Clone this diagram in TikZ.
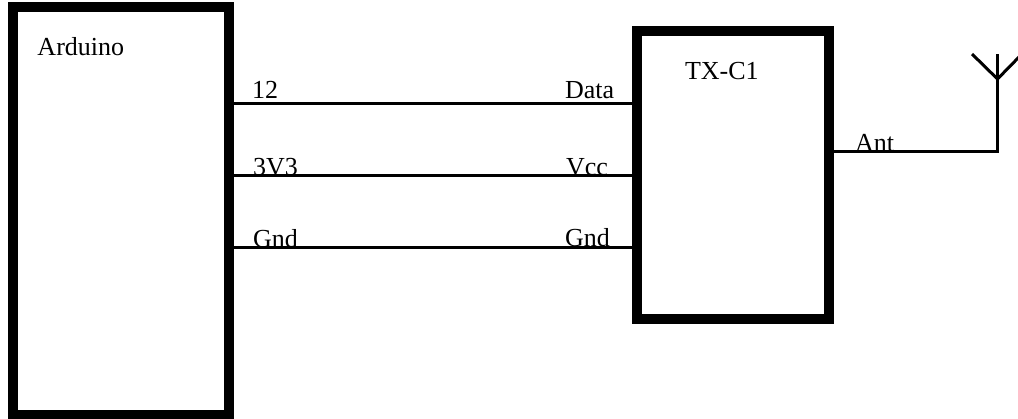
\documentclass[tikz,border=0pt]{standalone}
\usepackage{fontspec}
\setmainfont{Liberation Serif}
\tikzset{
  x=1pt,y=-1pt,
  chip/.style={draw=black,line width=10.5pt,fill=white,rectangle,inner sep=0pt,outer sep=0pt},
  wire/.style={draw=black,line width=3pt},
  lab/.style={anchor=base west,inner sep=0pt,outer sep=0pt,text=black,font=\fontsize{26}{30}\selectfont},
}
\begin{document}
\begin{tikzpicture}
\useasboundingbox (0,0) rectangle (1018,418);
\clip (0,0) rectangle (1018,418);
% boxes
\node[chip,minimum width=216pt,minimum height=408pt] (ard) at (121,211) {};
\node[chip,minimum width=192pt,minimum height=288pt] (tx) at (733,175) {};
% pin positions
\coordinate (p12) at (0,103.5);
\coordinate (p33) at (0,175.5);
\coordinate (pgn) at (0,247.5);
\coordinate (pan) at (0,151.5);
\coordinate (antfoot) at (997.5,151.5);
\coordinate (antjoin) at (997.5,79);
\coordinate (anttop) at (997.5,54);
\coordinate (antl) at (972,54);
\coordinate (antr) at (1020,56);
% labels (descenders are cut at the wire)
\node[lab] (larduino) at (37.5,55.5) {Arduino};
\node[lab] (ltx) at (685,79) {TX-C1};
\node[lab] (l12) at (252,98) {12};
\node[lab] (ldata) at (565,98) {Data};
\node[lab] (l33) at (253,175) {3V3};
\node[lab] (lvcc) at (566,175) {Vcc};
\begin{scope}
\clip (240,200) rectangle (640,247);
\node[lab] (lg1) at (253,247) {Gnd};
\node[lab] (lg2) at (565,246.5) {Gnd};
\end{scope}
\node[lab] (lant) at (855,151) {Ant};
% wires
\draw[wire] (ard.east|-p12) -- (tx.west|-p12);
\draw[wire] (ard.east|-p33) -- (tx.west|-p33);
\draw[wire] (ard.east|-pgn) -- (tx.west|-pgn);
\draw[wire,line cap=square] (tx.east|-pan) -- (antfoot) -- (anttop);
\draw[wire] (antl) -- (antjoin) -- (antr);
% redraw the boxes' frames above wire ends
\node[chip,fill=none,minimum width=216pt,minimum height=408pt] (ardf) at (ard.center) {};
\node[chip,fill=none,minimum width=192pt,minimum height=288pt] (txf) at (tx.center) {};
\end{tikzpicture}
\end{document}
